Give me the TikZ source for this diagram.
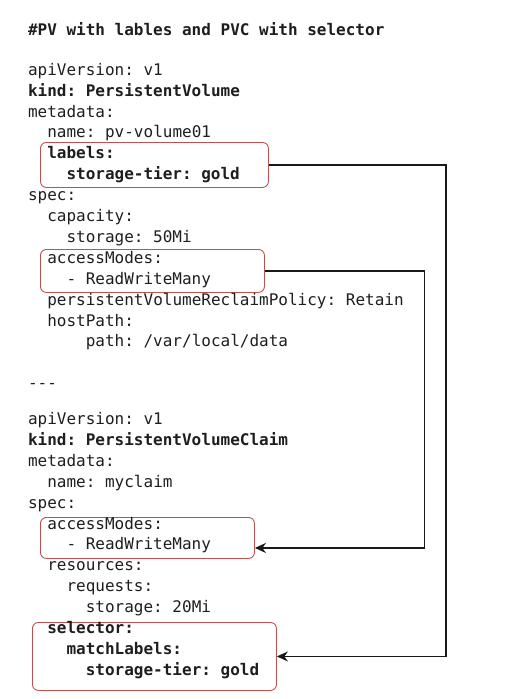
\documentclass[tikz,border=0pt]{standalone}
\usepackage{fontspec}
\setmonofont{DejaVu Sans Mono}
\usetikzlibrary{arrows.meta}
\definecolor{boxred}{RGB}{192,80,77}
\definecolor{txtc}{RGB}{30,30,30}
\begin{document}
\begin{tikzpicture}[x=1pt,y=-1pt,
  txt/.style={anchor=base west,inner sep=0pt,outer sep=0pt,text=txtc,font=\ttfamily\fontsize{16}{19}\selectfont},
  bld/.style={txt,font=\ttfamily\bfseries\fontsize{16}{19}\selectfont},
  hl/.style={draw=boxred,line width=0.9pt,rounded corners=6pt,anchor=north west,inner sep=0pt},
  conn/.style={draw=black!90,line width=1.1pt,-{Stealth[length=11pt,width=10pt,inset=3.5pt]}}]
\useasboundingbox (0,0) rectangle (520,699);
% highlight boxes
\node[hl,minimum width=228pt,minimum height=45pt] (b1) at (40,142) {};
\node[hl,minimum width=224pt,minimum height=43pt] (b2) at (40,249) {};
\node[hl,minimum width=214pt,minimum height=41pt] (b3) at (40,517) {};
\node[hl,minimum width=244pt,minimum height=68pt] (b4) at (32,622) {};
% text
\node[bld] (t0) at (28,35.5) {\#PV with lables and PVC with selector};
\node[txt] (p0) at (28,75.2) {apiVersion: v1};
\node[bld] (p1) at (28,96.1) {kind: PersistentVolume};
\node[txt] (p2) at (28,117.0) {metadata:};
\node[txt] (p3) at (47.3,137.9) {name: pv-volume01};
\node[bld] (p4) at (47.3,158.8) {labels:};
\node[bld] (p5) at (66.5,179.7) {storage-tier: gold};
\node[txt] (p6) at (28,200.6) {spec:};
\node[txt] (p7) at (47.3,221.5) {capacity:};
\node[txt] (p8) at (66.5,242.4) {storage: 50Mi};
\node[txt] (p9) at (47.3,263.3) {accessModes:};
\node[txt] (p10) at (66.5,284.2) {- ReadWriteMany};
\node[txt] (p11) at (47.3,305.1) {persistentVolumeReclaimPolicy: Retain};
\node[txt] (p12) at (47.3,326.0) {hostPath:};
\node[txt] (p13) at (85.8,346.9) {path: /var/local/data};
\node[txt] (sep) at (28,388.7) {---};
\node[txt] (c0) at (28,424.5) {apiVersion: v1};
\node[bld] (c1) at (28,445.4) {kind: PersistentVolumeClaim};
\node[txt] (c2) at (28,466.3) {metadata:};
\node[txt] (c3) at (47.3,487.2) {name: myclaim};
\node[txt] (c4) at (28,508.1) {spec:};
\node[txt] (c5) at (47.3,529.0) {accessModes:};
\node[txt] (c6) at (66.5,549.9) {- ReadWriteMany};
\node[txt] (c7) at (47.3,570.8) {resources:};
\node[txt] (c8) at (66.5,591.7) {requests:};
\node[txt] (c9) at (85.8,612.6) {storage: 20Mi};
\node[bld] (c10) at (47.3,633.5) {selector:};
\node[bld] (c11) at (66.5,654.4) {matchLabels:};
\node[bld] (c12) at (85.8,675.3) {storage-tier: gold};
% connectors
\coordinate (r1) at (446,0);
\coordinate (r2) at (424.5,0);
\draw[conn] (b1.east) -- (b1.east -| r1) |- (b4.east);
\draw[conn] (b2.east) -- (b2.east -| r2) |- ([yshift=-10pt]b3.east);
\end{tikzpicture}
\end{document}
